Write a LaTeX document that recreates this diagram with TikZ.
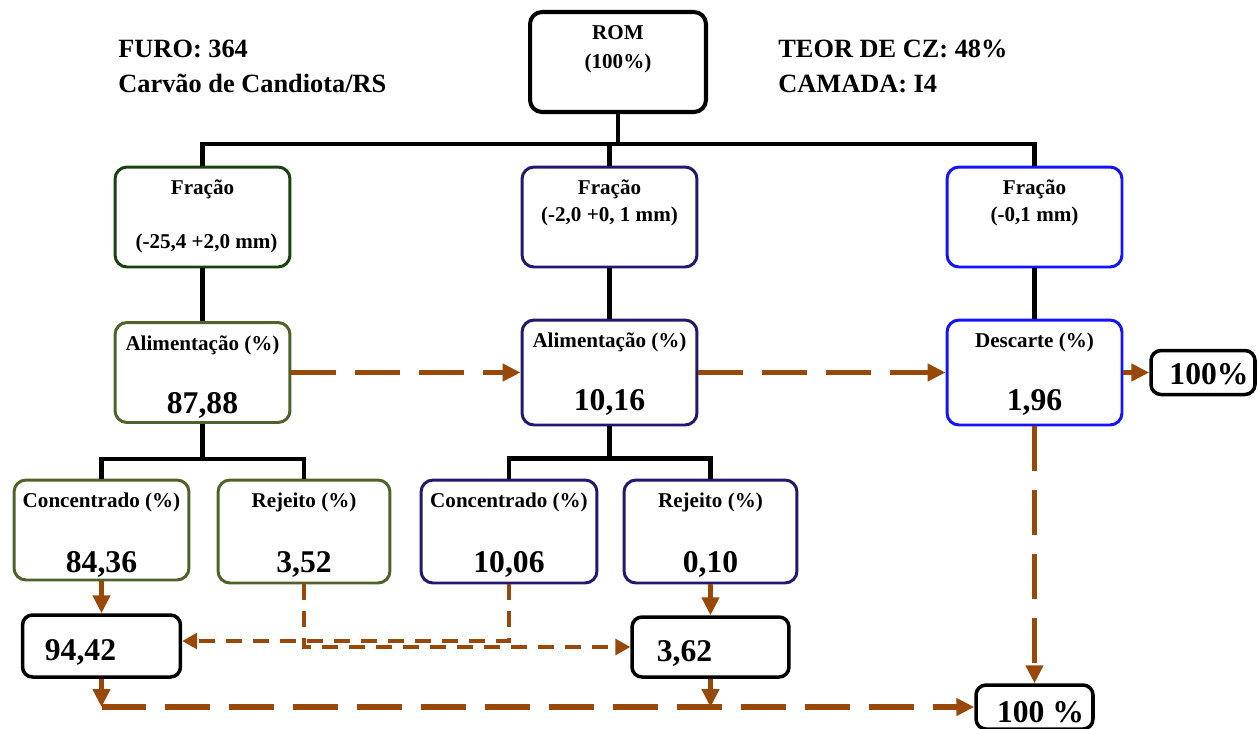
\documentclass[tikz,border=0pt]{standalone}
\usepackage{fontspec}
\setmainfont{Liberation Serif}
\usetikzlibrary{arrows.meta,calc}

\definecolor{frgreen}{RGB}{22,68,12}
\definecolor{olive}{RGB}{79,98,40}
\definecolor{navy}{RGB}{34,24,112}
\definecolor{vivblue}{RGB}{20,20,250}
\definecolor{flowc}{RGB}{152,72,8}

\begin{document}
\begin{tikzpicture}[
    x=0.02cm, y=-0.02cm,
    stage/.style={draw, line width=1.7pt, rounded corners=0.24cm, minimum width=3.5cm, minimum height=2cm, inner sep=0pt},
    res/.style={draw, line width=2pt, rounded corners=0.2cm, inner sep=0pt},
    lbl/.style={anchor=base, inner sep=0pt, font=\fontsize{12}{14}\selectfont\bfseries},
    num/.style={anchor=base, inner sep=0pt, font=\fontsize{18}{20}\selectfont\bfseries},
    head/.style={anchor=base west, inner sep=0pt, font=\fontsize{15}{17}\selectfont\bfseries},
    tree/.style={line width=2.8pt},
    flow/.style={draw=flowc, line width=3pt, dash pattern=on 0.9cm off 0.38cm, -{Triangle[length=0.36cm,width=0.34cm]}},
    flowthin/.style={draw=flowc, line width=1.8pt, dash pattern=on 0.32cm off 0.22cm, -{Triangle[length=0.3cm,width=0.32cm]}},
  ]
  \useasboundingbox (0,0) rectangle (1258,728);

  % header
  \node[head] (furo) at (118,57) {FURO: 364};
  \node[head] (cand) at (118,92) {Carvão de Candiota/RS};
  \node[head] (teor) at (778,57) {TEOR DE CZ: 48\%};
  \node[head] (camada) at (778,92) {CAMADA: I4};

  % ROM
  \node[stage, line width=2.3pt, minimum width=3.52cm] (rom) at (618,62) {};
  \node[lbl] at ($(rom.north)+(0,30)$) {ROM};
  \node[lbl] at ($(rom.north)+(0,59)$) {(100\%)};

  % fractions
  \node[stage, draw=frgreen] (fl) at (202.5,217) {};
  \node[lbl] at ($(fl.north)+(0,29)$) {Fração};
  \node[lbl] at ($(fl.north)+(4,83)$) {(-25,4 +2,0 mm)};
  \node[stage, draw=navy] (fm) at (609.5,217) {};
  \node[lbl] at ($(fm.north)+(0,29)$) {Fração};
  \node[lbl] at ($(fm.north)+(0,56)$) {(-2,0 +0, 1 mm)};
  \node[stage, draw=vivblue] (fr) at (1034.5,217) {};
  \node[lbl] at ($(fr.north)+(0,29)$) {Fração};
  \node[lbl] at ($(fr.north)+(0,56)$) {(-0,1 mm)};

  % feed
  \node[stage, draw=olive] (al) at (202.5,372.5) {};
  \node[lbl] at ($(al.north)+(0,29)$) {Alimentação (\%)};
  \node[num] at ($(al.north)+(0,92)$) {87,88};
  \node[stage, draw=navy, minimum height=2.1cm] (am) at (609.5,372.5) {};
  \node[lbl] at ($(am.north)+(0,29)$) {Alimentação (\%)};
  \node[num] at ($(am.north)+(0,92)$) {10,16};
  \node[stage, draw=vivblue, minimum height=2.1cm] (ds) at (1034.5,372.5) {};
  \node[lbl] at ($(ds.north)+(0,29)$) {Descarte (\%)};
  \node[num] at ($(ds.north)+(0,92)$) {1,96};

  % products
  \node[stage, draw=olive] (cl) at (101.5,530) {};
  \node[lbl] at ($(cl.north)+(0,29)$) {Concentrado (\%)};
  \node[num] at ($(cl.north)+(0,94)$) {84,36};
  \node[stage, draw=olive, minimum width=3.44cm, minimum height=2.06cm] (rl) at (304,531.5) {};
  \node[lbl] at ($(rl.north)+(0,29)$) {Rejeito (\%)};
  \node[num] at ($(rl.north)+(0,94)$) {3,52};
  \node[stage, draw=navy, minimum width=3.52cm, minimum height=2.06cm] (cm) at (509,531.5) {};
  \node[lbl] at ($(cm.north)+(0,29)$) {Concentrado (\%)};
  \node[num] at ($(cm.north)+(0,94)$) {10,06};
  \node[stage, draw=navy, minimum width=3.46cm, minimum height=2.06cm] (rm) at (710.5,531.5) {};
  \node[lbl] at ($(rm.north)+(0,29)$) {Rejeito (\%)};
  \node[num] at ($(rm.north)+(0,94)$) {0,10};

  % results
  \node[res, minimum width=3.16cm, minimum height=1.24cm] (r1) at (101.5,646) {};
  \node[num] at ($(r1.center)+(-21,14)$) {94,42};
  \node[res, minimum width=3.14cm, minimum height=1.2cm] (r2) at (710.5,647) {};
  \node[num] at ($(r2.center)+(-26,14)$) {3,62};
  \node[res, minimum width=2.34cm, minimum height=0.88cm] (r3) at (1034.5,707) {};
  \node[num] at ($(r3.center)+(6,15)$) {100 \%};
  \node[res, minimum width=2.08cm, minimum height=0.88cm] (r4) at (1203,372.5) {};
  \node[num] at ($(r4.center)+(6,12)$) {100\%};

  % tree
  \draw[tree] (rom.south) -- ++(0,30) coordinate (t0);
  \draw[tree] (fl.north) |- (t0) -| (fr.north);
  \draw[tree] (fm.north) -- (fm.north |- t0);
  \draw[tree] (fl) -- (al);
  \draw[tree] (fm) -- (am);
  \draw[tree] (fr) -- (ds);
  \draw[tree] (al.south) -- ++(0,35) coordinate (t1);
  \draw[tree] (cl.north) |- (t1) -| (rl.north);
  \draw[tree] (am.south) -- ++(0,32) coordinate (t2);
  \draw[tree] (cm.north) |- (t2) -| (rm.north);

  % mass flow
  \draw[flow] (al.east) -- (am.west);
  \draw[flow] (am.east) -- (ds.west);
  \draw[flow] (ds.east) -- (r4.west);
  \draw[flow] (ds.south) -- (r3.north);
  \draw[flow] (cl.south) -- (r1.north);
  \draw[flow] (rm.south) -- (r2.north);
  \draw[flow] (r1.south) -- (r1.south |- r3.west);
  \draw[flow] (r1.south |- r3.west) -- (r3.west);
  \draw[flow] (r2.south) -- (r2.south |- r3.west);
  \draw[flowthin] (rl.south) |- (r2.west);
  \draw[flowthin] (cm.south) |- ([yshift=0.1cm]r1.east);
\end{tikzpicture}
\end{document}
